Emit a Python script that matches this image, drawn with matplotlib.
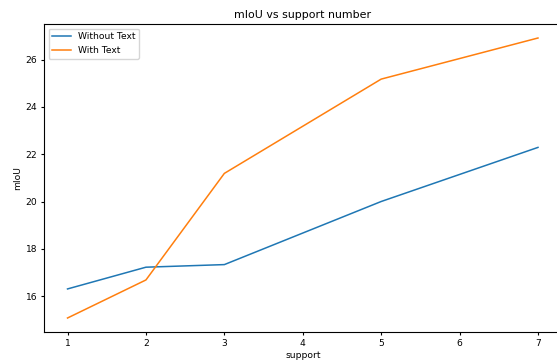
import matplotlib
matplotlib.use("Agg")
import matplotlib.pyplot as plt

# support numbers on the x axis
support = [1, 2, 3, 5, 7]
# mIoU values
without_text = [16.3, 17.22, 17.33, 20.0, 22.29]
with_text = [15.07, 16.68, 21.19, 25.18, 26.92]

# the reference looks like a default plot shrunk by about 2/3
k = 0.67
plt.rcParams['font.size'] = 6.6
plt.rcParams['xtick.major.size'] = 3.5 * k
plt.rcParams['ytick.major.size'] = 3.5 * k
plt.rcParams['xtick.major.pad'] = 3.5 * k
plt.rcParams['ytick.major.pad'] = 3.5 * k
plt.rcParams['axes.labelpad'] = 4.0 * k
plt.rcParams['axes.titlepad'] = 6.0 * k

fig = plt.figure(figsize=(5.57, 3.6), dpi=100)
# the original image is cropped on the right and bottom, so the axes
# run a little past the figure edge
ax = fig.add_axes([44 / 557, 28 / 360, 517.5 / 557, 308 / 360])
ax.plot(support, without_text, label="Without Text", linewidth=1.1)
ax.plot(support, with_text, label="With Text", linewidth=1.1)
ax.set_title("mIoU vs support number")
ax.set_xlabel("support")
ax.set_ylabel("mIoU")
ax.legend(loc='upper left')

fig.savefig("out.png", dpi=100)
